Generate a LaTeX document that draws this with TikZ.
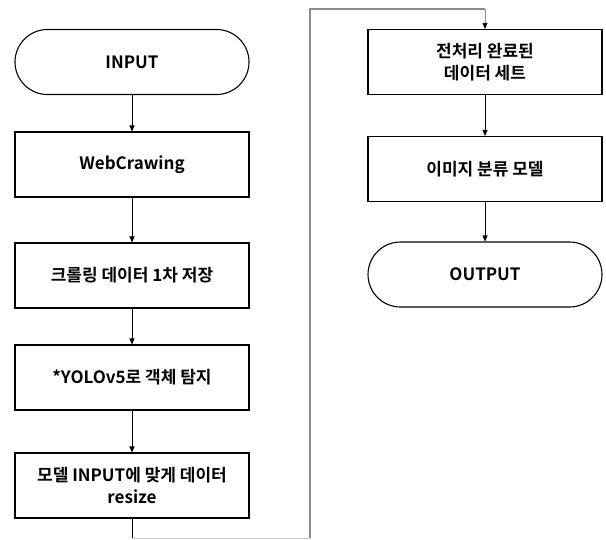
\documentclass[tikz,border=0pt]{standalone}
\usepackage{fontspec}
\setmainfont{Noto Sans CJK KR}[BoldFont={* Bold}]
\usetikzlibrary{arrows.meta,positioning}
\begin{document}
\begin{tikzpicture}[x=1pt,y=-1pt,
  stepbox/.style={draw=black,line width=1.1pt,minimum width=234pt,minimum height=65pt,inner sep=0pt,font=\fontsize{17}{22}\selectfont\bfseries,align=center},
  termbox/.style={stepbox,rounded corners=32.5pt},
  flow/.style={line width=0.7pt,-{Triangle[length=6pt,width=5pt,color=black]}},
  loopline/.style={draw=black!45,line width=1.3pt}]
\useasboundingbox (0,0) rectangle (606,539);
\fill[white] (0,0) rectangle (606,539);
\node[termbox] (in) at (132,62) {INPUT};
\node[stepbox] (web) at (132,164.5) {WebCrawing};
\node[stepbox] (crawl) at (132,275.5) {크롤링 데이터 1차 저장};
\node[stepbox] (yolo) at (132,377.5) {*YOLOv5로 객체 탐지};
\node[stepbox] (resize) at (132,485.5) {모델 INPUT에 맞게 데이터\\resize};
\node[stepbox] (pre) at (485,62) {전처리 완료된\\데이터 세트};
\node[stepbox] (cls) at (485,169) {이미지 분류 모델};
\node[termbox] (out) at (485,274.5) {OUTPUT};
\coordinate (b1) at (132,538);
\coordinate (b2) at (310,538);
\coordinate (t1) at (310,9);
\coordinate (t2) at (485,9);
\draw[flow] (in) -- (web);
\draw[flow] (web) -- (crawl);
\draw[flow] (crawl) -- (yolo);
\draw[flow] (yolo) -- (resize);
\draw[line width=0.7pt] (resize.south) -- (b1);
\draw[loopline,black!20,line width=0.8pt] (b1) -- (b2);
\draw[loopline] (b2) -- (t1) -- (t2);
\draw[flow,draw=black!45] (t2) -- (pre.north);
\draw[flow] (pre) -- (cls);
\draw[flow] (cls) -- (out);
\end{tikzpicture}
\end{document}
